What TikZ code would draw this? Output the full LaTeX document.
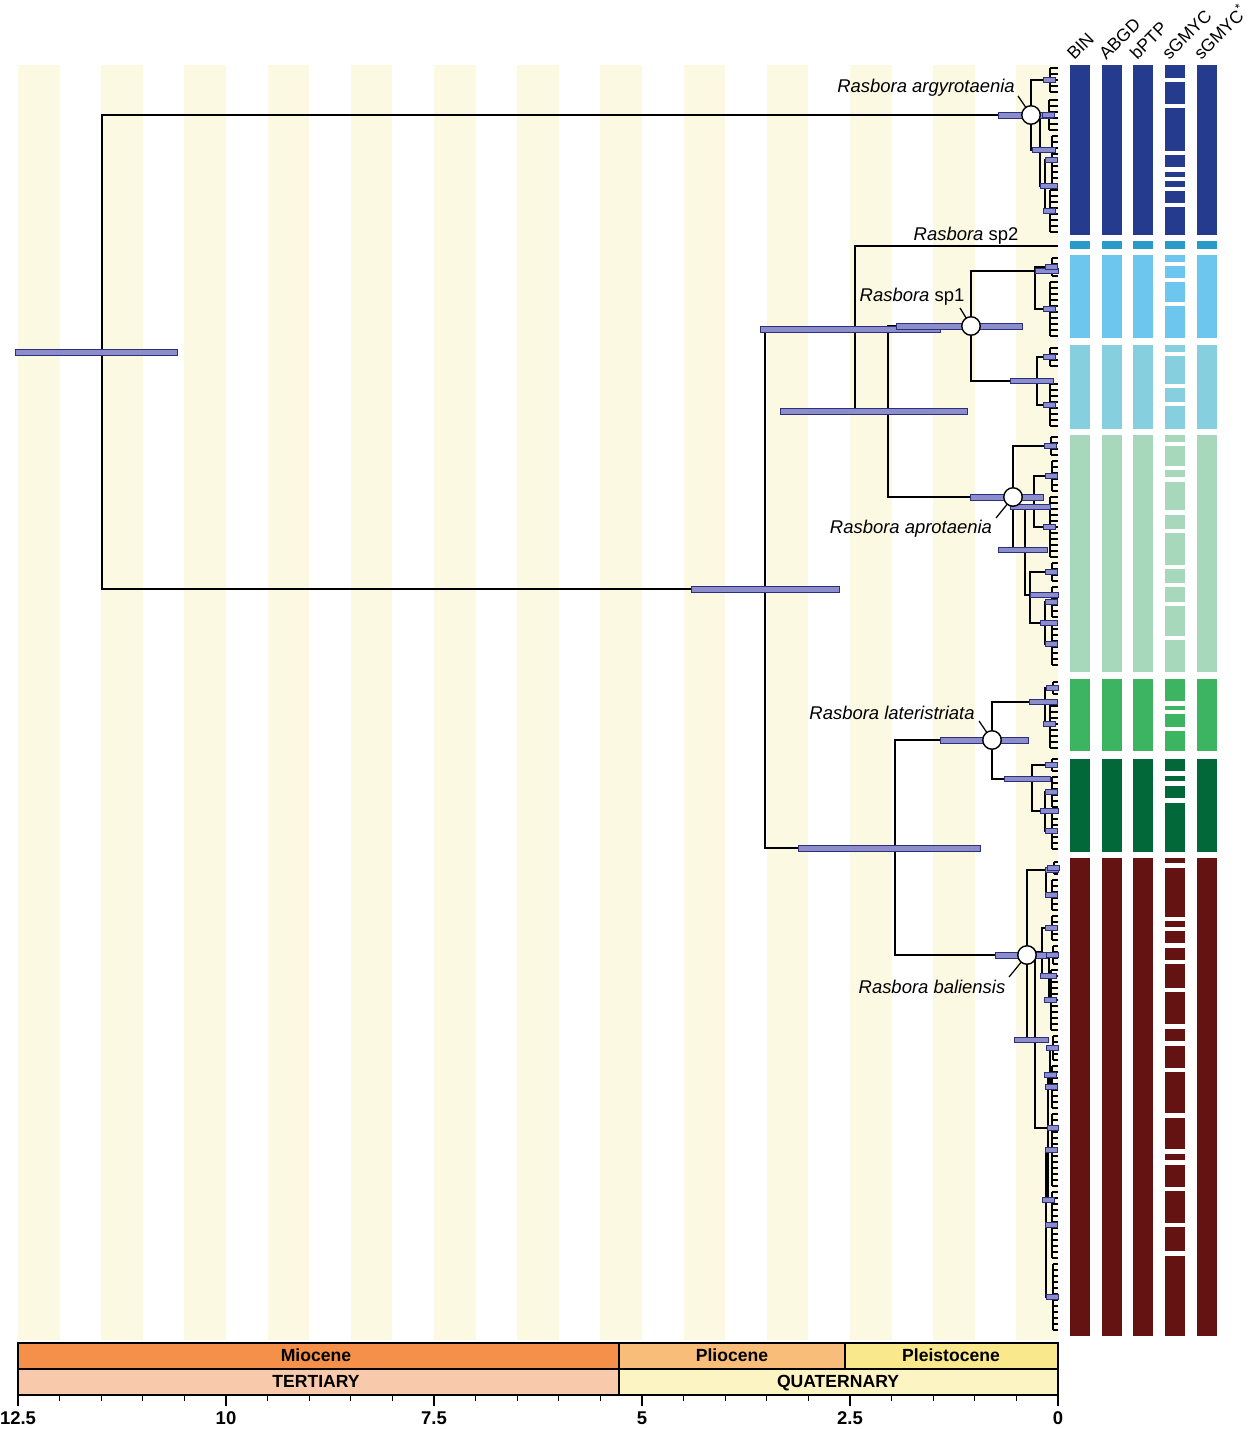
\documentclass[tikz,border=0pt]{standalone}
\usepackage{fontspec}
\setmainfont{Liberation Sans}
\usetikzlibrary{calc}
\definecolor{stripeFill}{HTML}{FCF9E3}
\definecolor{hpdFill}{HTML}{8B8ECB}
\definecolor{hpdLine}{HTML}{2C2F7E}
\definecolor{mioFill}{HTML}{F4904A}
\definecolor{plioFill}{HTML}{F8BD78}
\definecolor{pleiFill}{HTML}{FAE98C}
\definecolor{tertFill}{HTML}{F9C9AC}
\definecolor{quatFill}{HTML}{FCF4C2}
\definecolor{argyBlue}{HTML}{243B8E}
\definecolor{spTwoBlue}{HTML}{2A9ACB}
\definecolor{spOneBlue}{HTML}{6CC6EE}
\definecolor{spOneTeal}{HTML}{86CFDF}
\definecolor{aproGreen}{HTML}{A8D8BC}
\definecolor{laterGreen}{HTML}{3CB462}
\definecolor{laterDark}{HTML}{02683A}
\definecolor{baliRed}{HTML}{641312}

\begin{document}
\begin{tikzpicture}[
  x=0.02cm, y=-0.02cm,
  branch/.style={line width=0.6pt},
  hpd/.style={fill=hpdFill, draw=hpdLine, line width=0.4pt},
  nodecirc/.style={circle, draw, line width=0.8pt, fill=white,
                   minimum size=3.7mm, inner sep=0pt},
  clade/.style={font=\fontsize{10.5}{12}\selectfont, inner sep=1pt},
  era/.style={draw, line width=0.7pt},
  eralab/.style={font=\bfseries\fontsize{10}{12}\selectfont, inner sep=0pt,
                 anchor=base},
  colhead/.style={rotate=45, anchor=base west, inner sep=0pt,
                  font=\fontsize{10}{12}\selectfont}
]
  \fill[white] (0,0) rectangle (1253,1429);
  \useasboundingbox (0,0) rectangle (1253,1429);

  % half-million-year stripes
  \foreach \k in {0,...,12}
    \fill[stripeFill] ({18+83.2*\k},65) rectangle ({59.6+83.2*\k},1340);

  % geological time scale
  \draw[era, fill=mioFill]  (18,1343)  rectangle (619,1369);
  \draw[era, fill=plioFill] (619,1343) rectangle (845,1369);
  \draw[era, fill=pleiFill] (845,1343) rectangle (1058,1369);
  \draw[era, fill=tertFill] (18,1369)  rectangle (619,1395);
  \draw[era, fill=quatFill] (619,1369) rectangle (1058,1395);
  \node[eralab] (mio)  at (316,1361) {Miocene};
  \node[eralab] (plio) at (732,1361) {Pliocene};
  \node[eralab] (plei) at (951,1361) {Pleistocene};
  \node[eralab] (tert) at (316,1387) {TERTIARY};
  \node[eralab] (quat) at (838,1387) {QUATERNARY};
  \foreach \k in {0,...,25}
    \draw[era] ({18+41.6*\k},1395) -- ++(0,6);
  \foreach \k/\lb in {0/12.5,5/10,10/7.5,15/5,20/2.5,25/0} {
    \draw[era] ({18+41.6*\k},1395) -- ++(0,11);
    \node[eralab, font=\bfseries\fontsize{10.5}{12}\selectfont] (tick\k) at ({18+41.6*\k},1424) {\lb};
  }

  % main tree nodes
  \coordinate (root)  at (102,352);
  \coordinate (argy)  at (1031,115);
  \coordinate (core)  at (765,589);
  \coordinate (upper) at (855,329);
  \coordinate (sptwo) at (1058,246);
  \coordinate (mid)   at (888,411);
  \coordinate (spone) at (971,326);
  \coordinate (apro)  at (1013,497);
  \coordinate (lower) at (895,848);
  \coordinate (later) at (992,740);
  \coordinate (bali)  at (1027,955);
  % inner nodes
  \coordinate (na1) at (1040,150);  \coordinate (na2) at (1045,186);
  \coordinate (nb1) at (1035,271);  \coordinate (nb2) at (1037,381);
  \coordinate (np2) at (1025,550);  \coordinate (np3) at (1034,507);
  \coordinate (np4) at (1030,595);  \coordinate (np5) at (1045,623);
  \coordinate (nl1) at (1045,702);  \coordinate (nl2) at (1032,779);
  \coordinate (nl3) at (1045,811);
  \coordinate (nt)  at (1046,870);  \coordinate (nB)  at (1035,1040);
  \coordinate (nB1) at (1042,952);  \coordinate (nB1b) at (1049,976);
  \coordinate (nB2) at (1048,1128); \coordinate (nB2a) at (1050,1075);
  \coordinate (nB2b) at (1046,1200);

  % terminal combs
  \foreach \nm/\cx/\ya/\yb in {ca1/1050/68/92, ca2/1049/100/130, ca3/1052/136/184,
      ca4/1050/190/232, cb1/1052/258/276, cb2/1050/282/336, cb3/1050/348/366,
      cb4/1050/384/426, cp1/1051/437/455, cp2/1052/461/491, cp3/1050/497/557,
      cp4/1052/563/581, cp5/1052/587/617, cp6/1052/623/665, cl1/1053/682/694,
      cl2/1050/700/748, cl3/1052/759/771, cl4/1052/777/807, cl5/1052/813/849,
      ct1/1054/862/874, ct2/1052/880/910, cu1/1052/916/940, cu2/1053/946/964,
      cu3/1051/970/1030, cu4/1053/1036/1060, cu5/1052/1066/1108,
      cu6/1052/1114/1186, cu7/1052/1192/1258, cu8/1053/1264/1330} {
    \pgfmathtruncatemacro\yn{\ya+6}
    \pgfmathsetmacro\ym{(\ya+\yb)/2}
    \coordinate (\nm) at (\cx,\ym);
    \draw[branch] (\cx,\ya) -- (\cx,\yb);
    \foreach \t in {\ya,\yn,...,\yb}
      \draw[branch] (\cx,\t) -- (1058,\t);
  }

  % branches
  \foreach \p/\c in {root/argy, root/core, core/upper, core/lower, upper/sptwo,
      upper/mid, mid/spone, mid/apro, lower/later, lower/bali,
      argy/ca1, argy/na1, na1/ca2, na1/na2, na2/ca3, na2/ca4,
      spone/nb1, spone/nb2, nb1/cb1, nb1/cb2, nb2/cb3, nb2/cb4,
      apro/cp1, apro/np2, np2/np3, np2/np4, np3/cp2, np3/cp3, np4/cp4,
      np4/np5, np5/cp5, np5/cp6,
      later/nl1, later/nl2, nl1/cl1, nl1/cl2, nl2/cl3, nl2/nl3, nl3/cl4, nl3/cl5,
      bali/nt, bali/nB, nt/ct1, nt/ct2, nB/nB1, nB/nB2, nB1/cu1, nB1/nB1b,
      nB1b/cu2, nB1b/cu3, nB2/nB2a, nB2/nB2b, nB2a/cu4, nB2a/cu5,
      nB2b/cu6, nB2b/cu7, nB2b/cu8}
    \draw[branch] (\p) |- (\c);

  % 95% HPD bars
  \foreach \xa/\xb/\yy in {15/177/352, 691/839/589, 760/940/329, 780/967/411,
      896/1022/326, 970/1043/497, 940/1028/740, 798/980/848, 995/1047/955,
      998/1052/115}
    \draw[hpd] (\xa,\yy-3) rectangle (\xb,\yy+3);
  \foreach \xa/\xb/\yy in {1032/1055/150, 1040/1057/186, 1035/1058/271,
      1010/1053/381, 998/1047/550, 1010/1050/507, 1030/1058/595, 1040/1057/623,
      1029/1057/702, 1004/1050/779, 1040/1058/811, 1045/1058/870,
      1014/1048/1040, 1040/1056/976, 1047/1058/1128, 1044/1056/1075,
      1042/1054/1200}
    \draw[hpd] (\xa,\yy-2.5) rectangle (\xb,\yy+2.5);
  \foreach \nm in {ca1,ca2,ca3,ca4,cb1,cb2,cb3,cb4,cp1,cp2,cp3,cp4,cp5,cp6,
      cl1,cl2,cl3,cl4,cl5,ct1,ct2,cu1,cu2,cu3,cu4,cu5,cu6,cu7,cu8}
    \draw[hpd] ($(\nm)+(-7,-2.5)$) rectangle ($(\nm)+(5,2.5)$);

  % species labels
  \node[clade] (lbArgy)  at (926,88)  {\itshape Rasbora argyrotaenia};
  \node[clade] (lbSptwo) at (966,236) {\textit{Rasbora} sp2};
  \node[clade] (lbSpone) at (912,297) {\textit{Rasbora} sp1};
  \node[clade] (lbApro)  at (911,529) {\itshape Rasbora aprotaenia};
  \node[clade] (lbLater) at (892,713) {\itshape Rasbora lateristriata};
  \node[clade] (lbBali)  at (932,987) {\itshape Rasbora baliensis};
  \coordinate (ptArgy)  at (1018,96);
  \coordinate (ptSpone) at (960,308);
  \coordinate (ptApro)  at (996,518);
  \coordinate (ptLater) at (979,721);
  \coordinate (ptBali)  at (1009,977);
  \foreach \a/\b in {ptArgy/argy, ptSpone/spone, ptApro/apro,
      ptLater/later, ptBali/bali}
    \draw[line width=0.7pt] (\a) -- (\b);
  \foreach \nm in {argy, spone, apro, later, bali}
    \node[nodecirc] (c\nm) at (\nm) {};

  % delimitation columns
  \foreach \cx in {1070,1102,1133,1165,1197}
    \foreach \ya/\yb/\col in {65/235/argyBlue, 241/249/spTwoBlue,
        255/338/spOneBlue, 345/429/spOneTeal, 435/672/aproGreen,
        679/751/laterGreen, 759/852/laterDark, 858/1336/baliRed}
      \fill[\col] (\cx,\ya) rectangle (\cx+20,\yb);
  \foreach \g in {80,106,153,169.5,179,189,205,264,280,304,354,386,404,
      444,468,479.5,512.5,531,567,585,604,638,703.5,712,729,773.5,783.5,
      800.5,865.5,919,929,945.5,962,990,1026.5,1043.5,1070,1115.5,1151.5,
      1162.5,1189,1225,1253.5}
    \fill[white] (1164,\g-2.4) rectangle (1186,\g+2.4);

  \node[colhead] (hBin)   at (1074,61) {BIN};
  \node[colhead] (hAbgd)  at (1106,61) {ABGD};
  \node[colhead] (hBptp)  at (1137,61) {bPTP};
  \node[colhead] (hSgm)   at (1169,61) {sGMYC};
  \node[colhead] (hSgmst) at (1201,61) {sGMYC\textsuperscript{*}};
\end{tikzpicture}
\end{document}
